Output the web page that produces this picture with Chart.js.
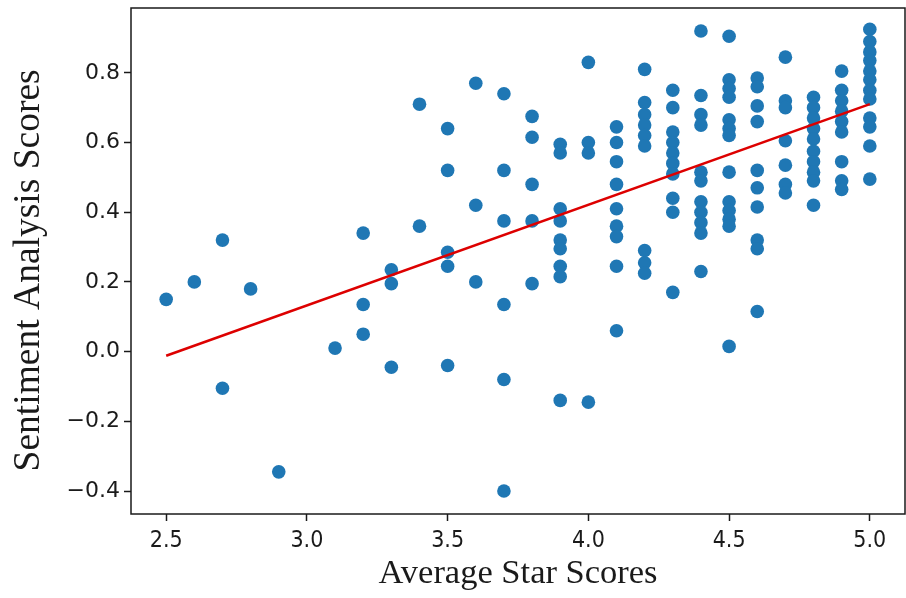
<!DOCTYPE html>
<html>
<head>
<meta charset="utf-8">
<script src="https://cdn.jsdelivr.net/npm/chart.js@4.4.1/dist/chart.umd.min.js"></script>
<style>
  html, body { margin: 0; padding: 0; background: #fff; }
  #wrap { width: 906px; height: 598px; }
</style>
</head>
<body>
<div id="wrap"><canvas id="chart" width="906" height="598"></canvas></div>
<script>
// Star score columns and the sentiment scores
const starLevels = [2.5, 2.6, 2.7, 2.8, 2.9, 3.1, 3.2, 3.3, 3.4, 3.5, 3.6, 3.7, 3.8, 3.9, 4.0, 4.1, 4.2, 4.3, 4.4, 4.5, 4.6, 4.7, 4.8, 4.9, 5.0];
const sentimentByStar = [
  [0.15],
  [0.20],
  [0.32, -0.105],
  [0.18],
  [-0.345],
  [0.01],
  [0.34, 0.135, 0.05],
  [0.235, 0.195, -0.045],
  [0.71, 0.36],
  [0.64, 0.52, 0.285, 0.245, -0.04],
  [0.77, 0.42, 0.20],
  [0.74, 0.52, 0.375, 0.135, -0.08, -0.40],
  [0.675, 0.615, 0.48, 0.375, 0.195],
  [0.595, 0.57, 0.41, 0.375, 0.32, 0.295, 0.245, 0.215, -0.14],
  [0.83, 0.60, 0.57, -0.145],
  [0.645, 0.60, 0.545, 0.48, 0.41, 0.36, 0.33, 0.245, 0.06],
  [0.81, 0.715, 0.68, 0.65, 0.62, 0.59, 0.29, 0.255, 0.225],
  [0.75, 0.70, 0.63, 0.60, 0.57, 0.54, 0.51, 0.44, 0.40, 0.17],
  [0.92, 0.735, 0.68, 0.65, 0.515, 0.49, 0.43, 0.40, 0.37, 0.34, 0.23],
  [0.905, 0.78, 0.755, 0.73, 0.665, 0.64, 0.62, 0.515, 0.43, 0.405, 0.38, 0.36, 0.015],
  [0.785, 0.76, 0.705, 0.66, 0.52, 0.47, 0.415, 0.32, 0.295, 0.115],
  [0.845, 0.72, 0.70, 0.605, 0.535, 0.48, 0.455],
  [0.73, 0.70, 0.67, 0.64, 0.61, 0.575, 0.545, 0.515, 0.49, 0.42],
  [0.805, 0.75, 0.72, 0.69, 0.66, 0.63, 0.545, 0.49, 0.465],
  [0.925, 0.89, 0.86, 0.835, 0.805, 0.78, 0.75, 0.725, 0.67, 0.645, 0.59, 0.495],
];

// Fitted line, end points
const fitX = [2.5, 5.0];
const fitY = [-0.012, 0.71];

const xTicks = [2.5, 3.0, 3.5, 4.0, 4.5, 5.0];
const yTicks = [-0.4, -0.2, 0.0, 0.2, 0.4, 0.6, 0.8];

const COLORS = {
  dot: '#1f77b4',
  fit: '#dd0000',
  ink: '#1a1a1a',
};

const points = [];
starLevels.forEach((s, i) => {
  for (const v of sentimentByStar[i]) points.push({ x: s, y: v });
});
const fitPoints = fitX.map((x, i) => ({ x, y: fitY[i] }));

// matplotlib-style closed frame around the plot area
const frame = {
  id: 'frame',
  afterDraw(chart) {
    const { ctx, chartArea: a } = chart;
    ctx.save();
    ctx.strokeStyle = COLORS.ink;
    ctx.lineWidth = 1.5;
    ctx.strokeRect(a.left, a.top, a.right - a.left, a.bottom - a.top);
    ctx.restore();
  },
};

const minus = (s) => String(s).replace('-', '\u2212');

new Chart(document.getElementById('chart'), {
  type: 'scatter',
  data: {
    datasets: [
      {
        type: 'line', data: fitPoints, order: 0,
        borderColor: COLORS.fit, borderWidth: 2.5, pointRadius: 0, fill: false,
      },
      {
        data: points, order: 1,
        backgroundColor: COLORS.dot, borderColor: COLORS.dot, borderWidth: 0,
        pointRadius: 6.8, pointHoverRadius: 6.8,
      },
    ],
  },
  options: {
    responsive: false, animation: false,
    layout: { autoPadding: false, padding: { top: 8, right: 1, left: 0, bottom: 0 } },
    plugins: { legend: { display: false }, tooltip: { enabled: false } },
    scales: {
      x: {
        type: 'linear', min: 2.375, max: 5.125,
        afterFit: (s) => { s.height = 84; s.paddingLeft = 0; s.paddingRight = 0; },
        afterBuildTicks: (s) => { s.ticks = xTicks.map(v => ({ value: v })); },
        grid: { drawOnChartArea: false, drawTicks: true, tickLength: 7, tickColor: COLORS.ink, tickWidth: 1.5 },
        border: { display: false },
        ticks: {
          color: COLORS.ink, padding: 6, maxRotation: 0,
          font: { family: "'DejaVu Sans Condensed', 'DejaVu Sans'", size: 23 },
          callback: (v) => v.toFixed(1),
        },
        title: {
          display: true, text: 'Average Star Scores', color: COLORS.ink,
          font: { family: "'Liberation Serif'", size: 34.5 }, padding: { top: 0, bottom: 3 },
        },
      },
      y: {
        type: 'linear', min: -0.466, max: 0.986,
        afterFit: (s) => { s.width = 131; s.paddingTop = 0; s.paddingBottom = 0; },
        afterBuildTicks: (s) => { s.ticks = yTicks.map(v => ({ value: v })); },
        grid: { drawOnChartArea: false, drawTicks: true, tickLength: 7, tickColor: COLORS.ink, tickWidth: 1.5 },
        border: { display: false },
        ticks: {
          color: COLORS.ink, padding: 4,
          font: { family: "'DejaVu Sans'", size: 22 },
          callback: (v) => minus(v.toFixed(1)),
        },
        title: {
          // trailing spaces nudge the centred label down, as in the source
          display: true, text: 'Sentiment Analysis Scores  ', color: COLORS.ink,
          font: { family: "'Liberation Serif'", size: 37.5 }, padding: { top: 7, bottom: 0 },
        },
      },
    },
  },
  plugins: [frame],
});
</script>
</body>
</html>
